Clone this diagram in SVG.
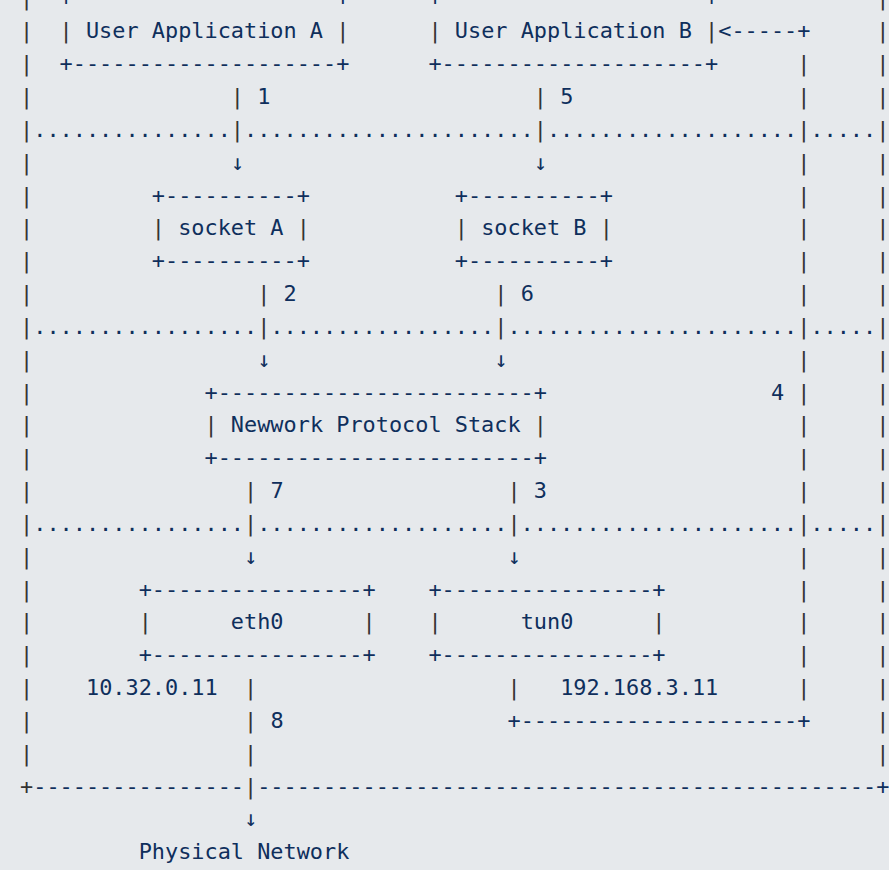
<svg xmlns="http://www.w3.org/2000/svg" width="889" height="870" viewBox="0 0 889 870">
<style>
text{font-family:"DejaVu Sans Mono","Liberation Mono",monospace;font-size:21.88px;fill:#0f2f5c;white-space:pre}
.p{fill:#333333}
</style>
<rect x="0" y="0" width="889" height="870" fill="#e6e9ec"/>
<g id="frame">
<text xml:space="preserve"><tspan class="p" x="20.1" y="5.46">|</tspan><tspan class="p" x="20.1" y="38.3">|</tspan><tspan class="p" x="20.1" y="71.14">|</tspan><tspan class="p" x="20.1" y="103.98">|</tspan><tspan class="p" x="20.1" y="169.66">|</tspan><tspan class="p" x="20.1" y="202.5">|</tspan><tspan class="p" x="20.1" y="235.34">|</tspan><tspan class="p" x="20.1" y="268.18">|</tspan><tspan class="p" x="20.1" y="301.02">|</tspan><tspan class="p" x="20.1" y="366.7">|</tspan><tspan class="p" x="20.1" y="399.54">|</tspan><tspan class="p" x="20.1" y="432.38">|</tspan><tspan class="p" x="20.1" y="465.22">|</tspan><tspan class="p" x="20.1" y="498.06">|</tspan><tspan class="p" x="20.1" y="563.74">|</tspan><tspan class="p" x="20.1" y="596.58">|</tspan><tspan class="p" x="20.1" y="629.42">|</tspan><tspan class="p" x="20.1" y="662.26">|</tspan><tspan class="p" x="20.1" y="695.1">|</tspan><tspan class="p" x="20.1" y="727.94">|</tspan><tspan class="p" x="20.1" y="760.78">|</tspan></text>
<text xml:space="preserve"><tspan class="p" x="876.35" y="5.46">|</tspan><tspan class="p" x="876.35" y="38.3">|</tspan><tspan class="p" x="876.35" y="71.14">|</tspan><tspan class="p" x="876.35" y="103.98">|</tspan><tspan class="p" x="876.35" y="169.66">|</tspan><tspan class="p" x="876.35" y="202.5">|</tspan><tspan class="p" x="876.35" y="235.34">|</tspan><tspan class="p" x="876.35" y="268.18">|</tspan><tspan class="p" x="876.35" y="301.02">|</tspan><tspan class="p" x="876.35" y="366.7">|</tspan><tspan class="p" x="876.35" y="399.54">|</tspan><tspan class="p" x="876.35" y="432.38">|</tspan><tspan class="p" x="876.35" y="465.22">|</tspan><tspan class="p" x="876.35" y="498.06">|</tspan><tspan class="p" x="876.35" y="563.74">|</tspan><tspan class="p" x="876.35" y="596.58">|</tspan><tspan class="p" x="876.35" y="629.42">|</tspan><tspan class="p" x="876.35" y="662.26">|</tspan><tspan class="p" x="876.35" y="695.1">|</tspan><tspan class="p" x="876.35" y="727.94">|</tspan><tspan class="p" x="876.35" y="760.78">|</tspan></text>
<text x="20.1" y="136.82" xml:space="preserve"><tspan class="p">|</tspan>...............<tspan class="p">|</tspan>......................<tspan class="p">|</tspan>...................<tspan class="p">|</tspan>.....<tspan class="p">|</tspan></text>
<text x="20.1" y="333.86" xml:space="preserve"><tspan class="p">|</tspan>.................<tspan class="p">|</tspan>.................<tspan class="p">|</tspan>......................<tspan class="p">|</tspan>.....<tspan class="p">|</tspan></text>
<text x="20.1" y="530.9" xml:space="preserve"><tspan class="p">|</tspan>................<tspan class="p">|</tspan>...................<tspan class="p">|</tspan>.....................<tspan class="p">|</tspan>.....<tspan class="p">|</tspan></text>
<text x="20.1" y="793.62" xml:space="preserve"><tspan class="p">+</tspan>----------------<tspan class="p">|</tspan>-----------------------------------------------+</text>
</g>
<g id="app-a">
<text x="59.62" y="5.46">+--------------------+</text>
<text x="59.62" y="38.3" xml:space="preserve"><tspan class="p">|</tspan> User Application A <tspan class="p">|</tspan></text>
<text x="59.62" y="71.14">+--------------------+</text>
</g>
<g id="app-b">
<text x="428.46" y="5.46">+--------------------+</text>
<text x="428.46" y="38.3" xml:space="preserve"><tspan class="p">|</tspan> User Application B <tspan class="p">|</tspan></text>
<text x="428.46" y="71.14">+--------------------+</text>
</g>
<g id="socket-a">
<text x="151.83" y="202.5">+----------+</text>
<text x="151.83" y="235.34" xml:space="preserve"><tspan class="p">|</tspan> socket A <tspan class="p">|</tspan></text>
<text x="151.83" y="268.18">+----------+</text>
</g>
<g id="socket-b">
<text x="454.81" y="202.5">+----------+</text>
<text x="454.81" y="235.34" xml:space="preserve"><tspan class="p">|</tspan> socket B <tspan class="p">|</tspan></text>
<text x="454.81" y="268.18">+----------+</text>
</g>
<g id="stack">
<text x="204.52" y="399.54">+------------------------+</text>
<text x="204.52" y="432.38" xml:space="preserve"><tspan class="p">|</tspan> Newwork Protocol Stack <tspan class="p">|</tspan></text>
<text x="204.52" y="465.22">+------------------------+</text>
</g>
<g id="eth0">
<text x="138.66" y="596.58">+----------------+</text>
<text x="138.66" y="629.42" xml:space="preserve"><tspan class="p">|</tspan>      eth0      <tspan class="p">|</tspan></text>
<text x="138.66" y="662.26">+----------------+</text>
<text x="85.97" y="695.1">10.32.0.11</text>
</g>
<g id="tun0">
<text x="428.46" y="596.58">+----------------+</text>
<text x="428.46" y="629.42" xml:space="preserve"><tspan class="p">|</tspan>      tun0      <tspan class="p">|</tspan></text>
<text x="428.46" y="662.26">+----------------+</text>
<text x="560.19" y="695.1">192.168.3.11</text>
</g>
<g id="physical-network">
<text x="138.66" y="859.3">Physical Network</text>
</g>
<g id="connectors">
<text x="718.27" y="38.3">&lt;-----+</text>
<text xml:space="preserve"><tspan class="p" x="797.31" y="71.14">|</tspan><tspan class="p" x="797.31" y="103.98">|</tspan><tspan class="p" x="797.31" y="169.66">|</tspan><tspan class="p" x="797.31" y="202.5">|</tspan><tspan class="p" x="797.31" y="235.34">|</tspan><tspan class="p" x="797.31" y="268.18">|</tspan><tspan class="p" x="797.31" y="301.02">|</tspan><tspan class="p" x="797.31" y="366.7">|</tspan><tspan class="p" x="797.31" y="399.54">|</tspan><tspan class="p" x="797.31" y="432.38">|</tspan><tspan class="p" x="797.31" y="465.22">|</tspan><tspan class="p" x="797.31" y="498.06">|</tspan><tspan class="p" x="797.31" y="563.74">|</tspan><tspan class="p" x="797.31" y="596.58">|</tspan><tspan class="p" x="797.31" y="629.42">|</tspan><tspan class="p" x="797.31" y="662.26">|</tspan><tspan class="p" x="797.31" y="695.1">|</tspan></text>
<text x="770.96" y="399.54">4</text>
<text class="p" x="230.87" y="103.98">|</text><text x="257.21" y="103.98">1</text>
<text class="p" x="533.85" y="103.98">|</text><text x="560.19" y="103.98">5</text>
<text x="230.87" y="169.66">↓</text><text x="533.85" y="169.66">↓</text>
<text class="p" x="257.21" y="301.02">|</text><text x="283.56" y="301.02">2</text>
<text class="p" x="494.32" y="301.02">|</text><text x="520.67" y="301.02">6</text>
<text x="257.21" y="366.7">↓</text><text x="494.32" y="366.7">↓</text>
<text class="p" x="244.04" y="498.06">|</text><text x="270.39" y="498.06">7</text>
<text class="p" x="507.5" y="498.06">|</text><text x="533.85" y="498.06">3</text>
<text x="244.04" y="563.74">↓</text><text x="507.5" y="563.74">↓</text>
<text class="p" x="244.04" y="695.1">|</text><text class="p" x="507.5" y="695.1">|</text>
<text class="p" x="244.04" y="727.94">|</text><text x="270.39" y="727.94">8</text>
<text x="507.5" y="727.94">+---------------------+</text>
<text class="p" x="244.04" y="760.78">|</text>
<text x="244.04" y="826.46">↓</text>
</g>
</svg>
